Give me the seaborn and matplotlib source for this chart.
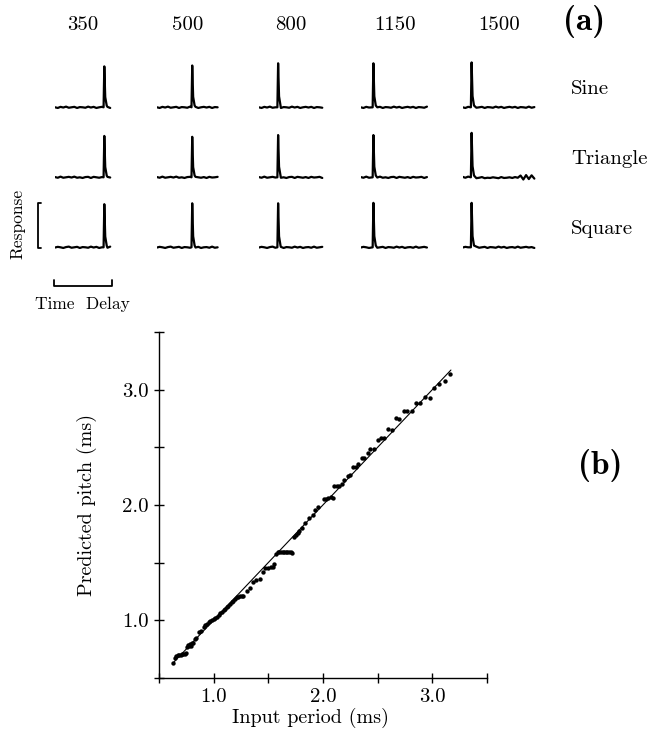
import numpy as np
import pandas as pd
import matplotlib
matplotlib.use("Agg")
import matplotlib.pyplot as plt
import seaborn as sns

# ---- panel (a): detector output for three waveforms at five frequencies ----
frequencies = ["350", "500", "800", "1150", "1500"]
waveforms = ["Sine", "Triangle", "Square"]
spike_delay = [2.88, 2.12, 1.25, 0.89, 0.69]   # ms
trace_end = [3.23, 3.59, 3.73, 3.88, 4.22]     # ms
trace_start = 0.2
sample_step = 0.15
spike_peak = {
    "Sine": [0.93, 0.95, 1.00, 1.00, 1.02],
    "Triangle": [0.94, 0.92, 0.96, 0.96, 1.01],
    "Square": [0.98, 1.00, 1.00, 1.01, 1.01],
}
baseline_noise = {
    "Sine": [0.00, -0.015, 0.01, -0.005, 0.015, -0.01, 0.00, 0.01, -0.015, 0.005,
             0.00, -0.01, 0.015, -0.005, 0.01, -0.015, 0.00, 0.01, -0.005, 0.01,
             -0.015, 0.005, 0.00, -0.01, 0.015, -0.01, 0.005, 0.00],
    "Triangle": [0.005, -0.01, 0.015, -0.01, 0.00, 0.01, -0.005, 0.015, -0.01, 0.00,
                 -0.015, 0.005, 0.01, -0.015, 0.01, 0.00, -0.01, 0.005, -0.015, 0.01,
                 -0.005, 0.00, 0.01, -0.015, 0.005, -0.01, 0.015, -0.005],
    "Square": [-0.005, 0.01, 0.00, -0.015, 0.005, 0.015, -0.01, 0.00, 0.01, -0.015,
               0.005, 0.00, -0.01, 0.015, -0.005, 0.01, -0.015, 0.00, 0.005, -0.01,
               0.015, -0.01, 0.00, 0.01, -0.005, 0.005, -0.015, 0.025],
}
# the triangle response at 1500 Hz rings near the end of the window
triangle_1500_noise = [0.01, -0.01, 0.015, -0.015, -0.01, -0.02, -0.01, 0.005, -0.02, -0.01,
                       -0.015, 0.00, -0.01, -0.02, 0.005, -0.015, -0.01, 0.00, -0.015, 0.005,
                       -0.01, 0.04, -0.05, 0.05, -0.04, 0.045, -0.03, 0.00]

# ---- panel (b): predicted pitch vs input period ----
input_period = [
    0.632, 0.648, 0.660, 0.672, 0.685, 0.698, 0.710, 0.722, 0.735, 0.746,
    0.760, 0.768, 0.775, 0.782, 0.790, 0.800, 0.812, 0.830, 0.840, 0.868,
    0.880, 0.910, 0.925, 0.940, 0.955, 0.970, 0.985, 1.000, 1.015, 1.030,
    1.045, 1.060, 1.075, 1.090, 1.105, 1.120, 1.135, 1.150, 1.165, 1.180,
    1.195, 1.210, 1.225, 1.240, 1.255, 1.270, 1.305, 1.330, 1.360, 1.390,
    1.420, 1.448, 1.470, 1.494, 1.520, 1.540, 1.555, 1.570, 1.585, 1.600,
    1.615, 1.630, 1.645, 1.660, 1.675, 1.690, 1.705, 1.720, 1.737, 1.753,
    1.768, 1.783, 1.810, 1.838, 1.875, 1.906, 1.927, 1.957, 2.006, 2.025,
    2.043, 2.073, 2.089, 2.103, 2.128, 2.149, 2.171, 2.195, 2.226, 2.250,
    2.277, 2.299, 2.323, 2.354, 2.378, 2.409, 2.433, 2.464, 2.500, 2.531,
    2.561, 2.597, 2.629, 2.668, 2.698, 2.738, 2.769, 2.812, 2.851, 2.890,
    2.933, 2.982, 3.018, 3.064, 3.119, 3.165,
]
predicted_pitch = [
    0.625, 0.675, 0.690, 0.695, 0.700, 0.700, 0.703, 0.705, 0.708, 0.712,
    0.770, 0.785, 0.775, 0.795, 0.780, 0.800, 0.805, 0.835, 0.845, 0.895,
    0.905, 0.945, 0.955, 0.968, 0.980, 0.995, 1.000, 1.012, 1.020, 1.030,
    1.043, 1.058, 1.070, 1.085, 1.098, 1.110, 1.125, 1.140, 1.155, 1.170,
    1.185, 1.198, 1.205, 1.208, 1.210, 1.212, 1.255, 1.275, 1.330, 1.345,
    1.360, 1.420, 1.450, 1.455, 1.460, 1.460, 1.490, 1.575, 1.590, 1.595,
    1.595, 1.595, 1.595, 1.595, 1.590, 1.590, 1.588, 1.585, 1.720, 1.735,
    1.755, 1.770, 1.800, 1.844, 1.888, 1.916, 1.957, 1.979, 2.052, 2.055,
    2.060, 2.066, 2.057, 2.167, 2.167, 2.167, 2.181, 2.216, 2.247, 2.259,
    2.331, 2.331, 2.354, 2.403, 2.403, 2.452, 2.489, 2.489, 2.562, 2.579,
    2.579, 2.659, 2.651, 2.752, 2.743, 2.818, 2.818, 2.815, 2.887, 2.887,
    2.936, 2.925, 3.016, 3.046, 3.074, 3.137,
]
identity_x = [0.63, 3.17]
identity_y = [0.63, 3.17]
period_ticks = [0.5, 1.0, 1.5, 2.0, 2.5, 3.0, 3.5]
period_labels = ["", "1.0", "", "2.0", "", "3.0", ""]

sns.set_theme(style="ticks", rc={
    "axes.edgecolor": "black", "xtick.color": "black", "ytick.color": "black",
    "text.color": "black", "axes.labelcolor": "black",
})
plt.rcParams["font.family"] = ["cmr10", "DejaVu Serif"]
plt.rcParams["axes.formatter.use_mathtext"] = True

W, H = 657, 742
fig = plt.figure(figsize=(W / 100, H / 100), dpi=100)


def px_axes(left, top, width, height):
    return fig.add_axes([left / W, 1 - (top + height) / H, width / W, height / H])


row_baseline = [107.3, 177.3, 247.3]
px_per_ms = 18.4
px_per_unit = 44.0
y_lo, y_hi = -0.2, 1.1
x_lo, x_hi = 0.2, 4.4

trace_axes = {}
for i, wave in enumerate(waveforms):
    for j, freq in enumerate(frequencies):
        ax = px_axes(55 + 101.9 * j, row_baseline[i] - y_hi * px_per_unit,
                     (x_hi - x_lo) * px_per_ms, (y_hi - y_lo) * px_per_unit)
        noise = triangle_1500_noise if (wave == "Triangle" and freq == "1500") else baseline_noise[wave]
        t = trace_start + sample_step * np.arange(len(noise))
        keep = t <= trace_end[j]
        d = spike_delay[j]
        peak = spike_peak[wave][j]
        t_all = np.concatenate([t[keep], [d - 0.04, d, d + 0.05, d + 0.13]])
        r_all = np.concatenate([np.array(noise)[keep], [0.0, peak, 0.25 * peak, 0.04]])
        near = np.abs(t_all - d) < 0.12
        near[-4:] = False
        df = pd.DataFrame({"t": t_all[~near], "r": r_all[~near]})
        sns.lineplot(data=df, x="t", y="r", ax=ax, color="black", linewidth=1.6,
                     estimator=None, sort=True)
        ax.set_xlim(x_lo, x_hi)
        ax.set_ylim(y_lo, y_hi)
        ax.axis("off")
        trace_axes[(i, j)] = ax

        if i == 0:
            ax.text((trace_start + trace_end[j]) / 2, 1.60, freq, transform=ax.get_xaxis_transform(),
                    ha="center", va="center", fontsize=15)

for i, wave in enumerate(waveforms):
    fig.text(571 / W, 1 - (row_baseline[i] - 18) / H, wave, ha="left", va="center", fontsize=15)

# scale bars next to the bottom-left trace
sb = trace_axes[(2, 0)]
sb.plot([-0.57, -0.72, -0.72, -0.57], [1.0, 1.0, -0.02, -0.02], color="black", lw=1.3, clip_on=False)
sb.plot([0.15, 0.15, 3.30, 3.30], [-0.74, -0.88, -0.88, -0.74], color="black", lw=1.3, clip_on=False)
fig.text(18 / W, 1 - 224 / H, "Response", rotation=90, ha="center", va="center", fontsize=12.5)
fig.text(82.5 / W, 1 - 304 / H, "Time  Delay", ha="center", va="center", fontsize=12.5)

fig.text(584 / W, 1 - 22 / H, "(a)", ha="center", va="center", fontsize=24, fontfamily="cmb10")
fig.text(600 / W, 1 - 466 / H, "(b)", ha="center", va="center", fontsize=24, fontfamily="cmb10")

# ---- panel (b) ----
ax2 = px_axes(159, 332, 328, 345.8)
sns.lineplot(x=identity_x, y=identity_y, ax=ax2, color="black", linewidth=0.8)
sns.scatterplot(x=input_period, y=predicted_pitch, ax=ax2, color="black", s=10, linewidth=0)
ax2.set_xlim(0.5, 3.5)
ax2.set_ylim(0.5, 3.5)
ax2.set_xticks(period_ticks)
ax2.set_xticklabels(period_labels)
ax2.set_yticks(period_ticks)
ax2.set_yticklabels(period_labels)
ax2.tick_params(direction="inout", length=7, width=1.0, labelsize=15, pad=4)
for side in ["top", "right"]:
    ax2.spines[side].set_visible(False)
for side in ["left", "bottom"]:
    ax2.spines[side].set_linewidth(1.0)
ax2.set_xlabel("Input period (ms)", fontsize=14.5)
ax2.set_ylabel("Predicted pitch (ms)", fontsize=14.5)
ax2.xaxis.set_label_coords(0.463, -0.087)
ax2.yaxis.set_label_coords(-0.19, 0.5)

fig.savefig("out.png", dpi=100)
